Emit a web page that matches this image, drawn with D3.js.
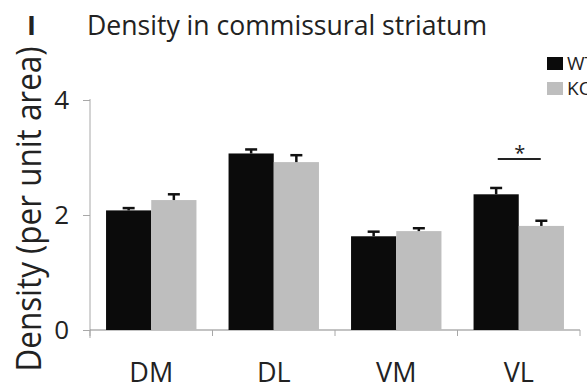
<!DOCTYPE html>
<html>
<head>
<meta charset="utf-8">
<script src="https://cdn.jsdelivr.net/npm/d3@7"></script>
<style>
  html, body { margin: 0; padding: 0; background: #fff; }
  svg { display: block; font-family: "Open Sans", "Noto Sans", sans-serif; }
</style>
</head>
<body>
<div id="chart"></div>
<script>
// Regions of commissural striatum and group labels
const regions = ["DM", "DL", "VM", "VL"];
const groups = ["WT", "KO"];
// Mean density per unit area for each group, by region
const wtValues = [2.08, 3.07, 1.63, 2.36];
const koValues = [2.26, 2.92, 1.72, 1.81];
// SEM for each bar
const wtErrors = [0.04, 0.07, 0.08, 0.11];
const koErrors = [0.10, 0.12, 0.05, 0.09];
const yTicks = [0, 2, 4];
// Significant comparisons
const significant = ["VL"];

const width = 587, height = 391;
const colors = { WT: "#0b0b0b", KO: "#bebebe" };

const svg = d3.select("#chart").append("svg")
  .attr("width", width).attr("height", height);

const x0 = d3.scaleBand().domain(regions).range([90, 580]).paddingInner(0).paddingOuter(0);
const x1 = d3.scaleBand().domain(groups).range([0, x0.bandwidth()]).paddingInner(0).paddingOuter(0.355);
const y = d3.scaleLinear().domain([0, 4]).range([330, 100]);

const rows = regions.map((r, i) => ({
  region: r,
  bars: [
    { group: "WT", value: wtValues[i], err: wtErrors[i] },
    { group: "KO", value: koValues[i], err: koErrors[i] }
  ]
}));

// Title and panel letter
svg.append("text").attr("x", 27).attr("y", 35)
  .attr("font-size", 27).attr("font-weight", "bold").attr("fill", "#222").text("I");
svg.append("text").attr("x", 87).attr("y", 35)
  .attr("font-size", 28).attr("fill", "#222").attr("textLength", 400)
  .attr("lengthAdjust", "spacingAndGlyphs")
  .text("Density in commissural striatum");

// Y axis
const yAxis = svg.append("g").attr("transform", "translate(90,0)")
  .call(d3.axisLeft(y).tickValues(yTicks).tickSize(7).tickPadding(14).tickFormat(d3.format("d")));
yAxis.select(".domain").attr("stroke", "#a8a8a8").attr("d", "M0,99V338");
yAxis.selectAll(".tick line").attr("stroke", "#a8a8a8");
yAxis.selectAll(".tick text").attr("font-size", 26).attr("fill", "#222")
  .attr("font-family", "Open Sans, sans-serif");

svg.append("text")
  .attr("transform", "translate(41,209) rotate(-90)")
  .attr("text-anchor", "middle").attr("font-size", 34).attr("fill", "#222")
  .attr("textLength", 325).attr("lengthAdjust", "spacingAndGlyphs")
  .text("Density (per unit area)");

// X axis baseline and separators
const xAxis = svg.append("g").attr("transform", `translate(0,${y(0)})`);
xAxis.append("line").attr("x1", 90).attr("x2", 580).attr("stroke", "#888").attr("stroke-width", 1.2);
const seps = regions.map(r => x0(r)).concat([x0.range()[1]]);
xAxis.selectAll("line.sep").data(seps).join("line").attr("class", "sep")
  .attr("x1", d => d).attr("x2", d => d).attr("y1", 0).attr("y2", 6)
  .attr("stroke", "#a8a8a8");
xAxis.selectAll("text").data(regions).join("text")
  .attr("x", d => x0(d) + x0.bandwidth() / 2).attr("y", 52)
  .attr("text-anchor", "middle").attr("font-size", 27).attr("fill", "#222")
  .text(d => d);

// Bars with error bars
const g = svg.selectAll("g.region").data(rows).join("g").attr("class", "region")
  .attr("transform", d => `translate(${x0(d.region)},0)`);
g.selectAll("rect").data(d => d.bars).join("rect")
  .attr("x", d => x1(d.group)).attr("width", x1.bandwidth())
  .attr("y", d => y(d.value)).attr("height", d => y(0) - y(d.value))
  .attr("fill", d => colors[d.group]);
const eb = g.selectAll("g.err").data(d => d.bars).join("g").attr("class", "err")
  .attr("transform", d => `translate(${x1(d.group) + x1.bandwidth() / 2},0)`);
eb.append("line").attr("y1", d => y(d.value)).attr("y2", d => y(d.value + d.err))
  .attr("stroke", "#111").attr("stroke-width", 2.5);
eb.append("line").attr("x1", -6).attr("x2", 6)
  .attr("y1", d => y(d.value + d.err)).attr("y2", d => y(d.value + d.err))
  .attr("stroke", "#111").attr("stroke-width", 2.5);

// Significance marker
significant.forEach(r => {
  const cx = x0(r) + x0.bandwidth() / 2;
  svg.append("line").attr("x1", cx - 21).attr("x2", cx + 22)
    .attr("y1", 159).attr("y2", 159).attr("stroke", "#222").attr("stroke-width", 2);
  svg.append("text").attr("x", cx + 1).attr("y", 160)
    .attr("text-anchor", "middle").attr("font-size", 20).attr("fill", "#222").text("*");
});

// Legend
const leg = svg.selectAll("g.legend").data(groups).join("g").attr("class", "legend")
  .attr("transform", (d, i) => `translate(547,${57 + i * 25})`);
leg.append("rect").attr("width", 16).attr("height", 13).attr("fill", d => colors[d]);
leg.append("text").attr("x", 20).attr("y", 13).attr("font-size", 19).attr("fill", "#222")
  .text(d => d);
</script>
</body>
</html>
